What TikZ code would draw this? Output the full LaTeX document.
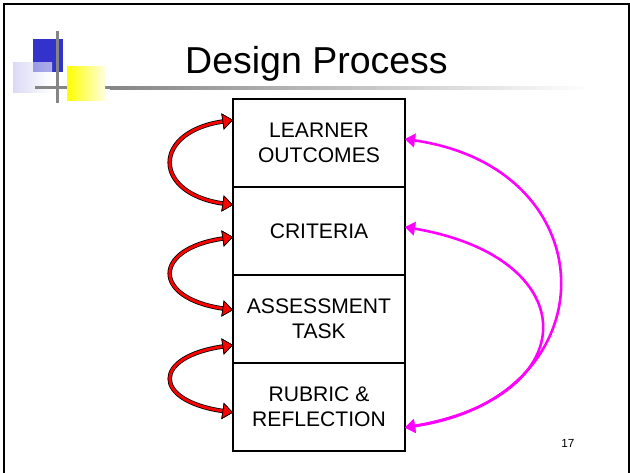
\documentclass[tikz,border=0pt]{standalone}
\usepackage{fontspec}
\setmainfont{Liberation Sans}
\usetikzlibrary{arrows.meta,positioning}
\definecolor{dpred}{HTML}{FF0000}
\definecolor{dppink}{HTML}{FF00FF}
\definecolor{dpblue}{HTML}{3333CC}
\definecolor{dpgray}{HTML}{858585}

\begin{document}
\begin{tikzpicture}[
    x=0.03cm, y=-0.03cm,
    node distance=0pt,
    box/.style={draw, line width=1.7pt, outer sep=0pt, minimum width=5.16cm, minimum height=2.64cm, align=center, font=\fontsize{18}{21}\selectfont},
    redline/.style={draw=black, line width=3.8pt, {Triangle[length=9pt, width=14pt, color=black, fill=black, line width=0.6pt]}-{Triangle[length=9pt, width=14pt, color=black, fill=black, line width=0.6pt]}},
    redarc/.style={draw=dpred, line width=2.4pt, {Triangle[length=9pt, width=14pt, color=black, fill=dpred, line width=0.6pt]}-{Triangle[length=9pt, width=14pt, color=black, fill=dpred, line width=0.6pt]}},
    pinkarc/.style={draw=dppink, line width=2.2pt, {Triangle[length=8.5pt, width=12pt, line width=0.1pt]}-{Triangle[length=8.5pt, width=12pt, line width=0.1pt]}}
  ]
    \clip (0,0) rectangle (630,473);
    % slide frame and logo
    \draw[line width=1.7pt] (4,4) rectangle (629,490);
    \fill[dpblue] (33,39) rectangle (63,72);
    \shade[left color=dpblue!30!white, right color=white, fill opacity=0.6] (13,62) rectangle (52,92);
    \fill[dpgray] (35,86) rectangle (110,89);
    \shade[left color=dpgray, right color=white] (110,86) rectangle (590,89);
    \fill[dpgray] (56,31) rectangle (59,103);
    \shade[left color=yellow, right color=yellow!12!white] (67,66) rectangle (105,100);
    \node[anchor=base west, inner sep=0pt, font=\fontsize{32}{38}\selectfont] (title) at (185,73) {Design Process};

    % the four stages
    \node[box] (learn) at (319,143) {LEARNER\\OUTCOMES};
    \node[box, below=of learn] (crit) {CRITERIA};
    \node[box, below=of crit] (assess) {ASSESSMENT\\TASK};
    \node[box, below=of assess] (rubric) {RUBRIC \&\\REFLECTION};
    \node[font=\fontsize{10}{12}\selectfont] (page) at (568,443) {17};

    % red loops on the left
    \coordinate (r1a) at ([yshift=0.69cm]learn.west);
    \coordinate (r1b) at ([yshift=0.78cm]crit.west);
    \coordinate (r2a) at ([yshift=-0.18cm]crit.west);
    \coordinate (r2b) at ([yshift=0.27cm]assess.west);
    \coordinate (r3a) at ([yshift=-0.78cm]assess.west);
    \coordinate (r3b) at ([yshift=-0.165cm]rubric.west);
    \foreach \a/\b in {r1a/r1b, r2a/r2b, r3a/r3b} {
      \path[redline] (\a) .. controls +(-81,12) and +(-81,-12) .. (\b);
      \path[redarc] (\a) .. controls +(-81,12) and +(-81,-12) .. (\b);
    }

    % magenta arcs on the right
    \coordinate (p0) at ([yshift=-0.615cm]rubric.east);
    \path[pinkarc] (p0) .. controls +(205,-30) and +(205,30) .. ([yshift=0.12cm]learn.east);
    \path[pinkarc] (p0) .. controls +(181,-31) and +(181,31) .. ([yshift=0.12cm]crit.east);
  \end{tikzpicture}
\end{document}
